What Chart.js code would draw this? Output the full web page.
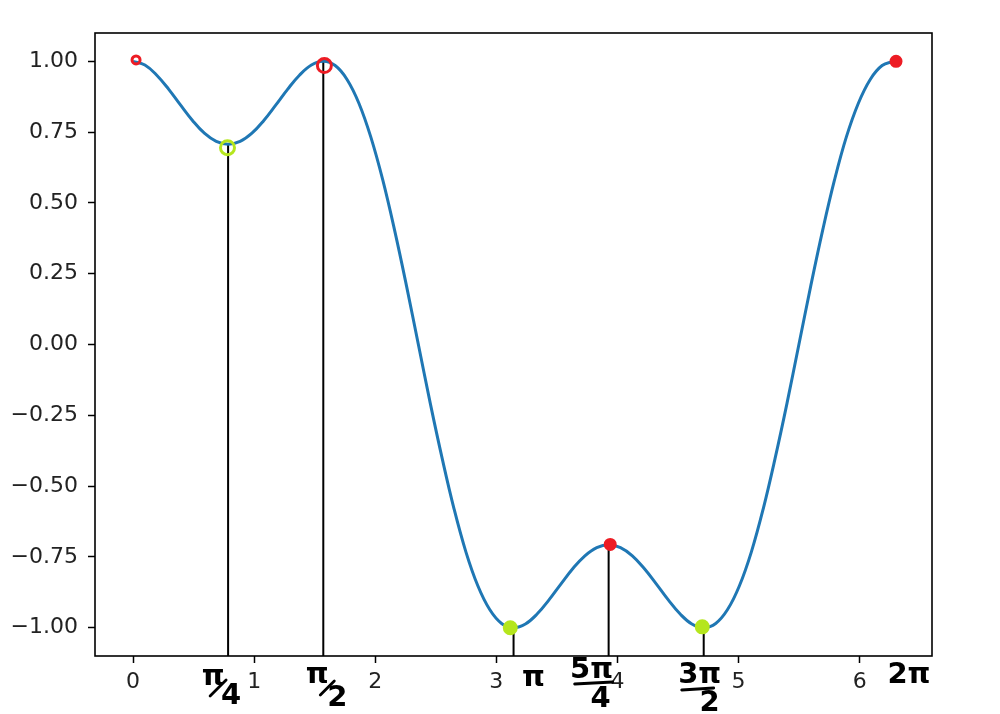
<!DOCTYPE html>
<html>
<head>
<meta charset="utf-8">
<script src="https://cdn.jsdelivr.net/npm/chart.js@4"></script>
<style>
html,body{margin:0;padding:0;background:#fff;}
#c{display:block;}
</style>
</head>
<body>
<canvas id="c" width="1000" height="714"></canvas>
<script>
// Curve samples (x in radians)
const curveX = [0, 0.098, 0.196, 0.295, 0.393, 0.491, 0.589, 0.687, 0.785, 0.884, 0.982, 1.080, 1.178, 1.276, 1.374, 1.473, 1.571, 1.669, 1.767, 1.865, 1.963, 2.062, 2.160, 2.258, 2.356, 2.454, 2.553, 2.651, 2.749, 2.847, 2.945, 3.043, 3.142, 3.240, 3.338, 3.436, 3.534, 3.632, 3.731, 3.829, 3.927, 4.025, 4.123, 4.221, 4.320, 4.418, 4.516, 4.614, 4.712, 4.811, 4.909, 5.007, 5.105, 5.203, 5.301, 5.400, 5.498, 5.596, 5.694, 5.792, 5.890, 5.989, 6.087, 6.185, 6.283];
const curveY = [1.000, 0.987, 0.951, 0.901, 0.845, 0.791, 0.746, 0.717, 0.707, 0.717, 0.746, 0.791, 0.845, 0.901, 0.951, 0.987, 1.000, 0.985, 0.936, 0.852, 0.733, 0.581, 0.403, 0.207, 0.000, -0.207, -0.403, -0.581, -0.733, -0.852, -0.936, -0.985, -1.000, -0.987, -0.951, -0.901, -0.845, -0.791, -0.746, -0.717, -0.707, -0.717, -0.746, -0.791, -0.845, -0.901, -0.951, -0.987, -1.000, -0.985, -0.936, -0.852, -0.733, -0.581, -0.403, -0.207, 0.000, 0.207, 0.403, 0.581, 0.733, 0.852, 0.936, 0.985, 1.000];

// Vertical black lines (stems) from the curve down to the bottom
const stemX = [0.785, 1.571, 3.142, 3.927, 4.712];
const stemTop = [0.707, 1.000, -1.000, -0.707, -1.000];

// Hand-drawn markers
const redX = [0.025, 1.58, 3.94, 6.30];
const redY = [1.005, 0.985, -0.706, 1.000];
const redFilled = [false, false, true, true];
const greenX = [0.78, 3.115, 4.70];
const greenY = [0.695, -1.000, -0.997];
const greenFilled = [false, true, true];

// Hand-written labels under the axis
const handLabels = ['π/4', 'π/2', 'π', '5π/4', '3π/2', '2π'];
const handLabelX = [0.785, 1.571, 3.142, 3.927, 4.712, 6.283];

// Axis ticks
const xTicks = [0, 1, 2, 3, 4, 5, 6];
const xTickLabels = ['0', '1', '2', '3', '4', '5', '6'];
const yTicks = [-1.0, -0.75, -0.5, -0.25, 0, 0.25, 0.5, 0.75, 1.0];
const yTickLabels = ['−1.00', '−0.75', '−0.50', '−0.25', '0.00', '0.25', '0.50', '0.75', '1.00'];

// styles
const RED = '#ed1c24';
const GREEN = '#b5e61d';
const redSize = [4, 7, 5, 5];
const greenSize = [7, 6, 6];
// per-label layout relative to the scale pixel of the value
const handStyle = [
  {num: [-15, 677], den: [3, 696], bar: [-18, 696, -2, 680]},
  {num: [-6, 675], den: [14, 698], bar: [-3, 695, 11, 681]},
  {num: [20, 678]},
  {num: [-17, 670], den: [-8, 699], bar: [-34, 684, 4, 682]},
  {num: [-4, 675], den: [6, 703], bar: [-22, 690, 10, 688]},
  {num: [15, 675]}
];

const stemDatasets = stemX.map((x, i) => ({
  type: 'line',
  data: [{x: x, y: stemTop[i]}, {x: x, y: -1.1}],
  borderColor: '#000',
  borderWidth: 2,
  pointRadius: 0,
  order: 3
}));

const frame = {
  id: 'frame',
  afterDatasetsDraw(chart) {
    const {ctx, chartArea: a} = chart;
    ctx.save();
    ctx.strokeStyle = '#000';
    ctx.lineWidth = 1.6;
    ctx.strokeRect(a.left, a.top, a.right - a.left, a.bottom - a.top);
    ctx.restore();
  },
  afterDraw(chart) {
    const {ctx} = chart;
    const xs = chart.scales.x;
    ctx.save();
    ctx.fillStyle = '#000';
    ctx.strokeStyle = '#000';
    ctx.lineWidth = 2.8;
    ctx.lineCap = 'round';
    ctx.textAlign = 'center';
    ctx.textBaseline = 'middle';
    ctx.font = "bold 29px 'DejaVu Sans'";
    handLabels.forEach((t, i) => {
      const px = xs.getPixelForValue(handLabelX[i]);
      const st = handStyle[i];
      const parts = t.split('/');
      ctx.fillText(parts[0], px + st.num[0], st.num[1]);
      if (parts.length > 1) {
        ctx.fillText(parts[1], px + st.den[0], st.den[1]);
        ctx.beginPath();
        ctx.moveTo(px + st.bar[0], st.bar[1]);
        ctx.lineTo(px + st.bar[2], st.bar[3]);
        ctx.stroke();
      }
    });
    ctx.restore();
  }
};

new Chart(document.getElementById('c'), {
  type: 'line',
  data: {
    datasets: [
      {
        type: 'scatter',
        data: redX.map((x, i) => ({x: x, y: redY[i]})),
        pointRadius: redSize,
        pointBorderWidth: 3,
        pointBorderColor: RED,
        pointBackgroundColor: redFilled.map(f => f ? RED : 'rgba(0,0,0,0)'),
        showLine: false,
        order: 0
      },
      {
        type: 'scatter',
        data: greenX.map((x, i) => ({x: x, y: greenY[i]})),
        pointRadius: greenSize,
        pointBorderWidth: 3,
        pointBorderColor: GREEN,
        pointBackgroundColor: greenFilled.map(f => f ? GREEN : 'rgba(0,0,0,0)'),
        showLine: false,
        order: 0
      },
      {
        type: 'line',
        data: curveX.map((x, i) => ({x: x, y: curveY[i]})),
        borderColor: '#1f77b4',
        borderWidth: 3,
        pointRadius: 0,
        tension: 0.4,
        order: 1
      },
      ...stemDatasets
    ]
  },
  options: {
    responsive: false,
    animation: false,
    layout: {padding: {top: 33, right: 68, left: 0, bottom: 0}},
    plugins: {legend: {display: false}, tooltip: {enabled: false}},
    scales: {
      x: {
        type: 'linear',
        min: -0.314,
        max: 6.597,
        afterBuildTicks: s => { s.ticks = xTicks.map(v => ({value: v})); },
        afterFit: s => { s.height = 58; },
        grid: {drawOnChartArea: false, drawTicks: true, tickLength: 7, tickColor: '#000', tickWidth: 1.5},
        border: {display: false},
        ticks: {
          autoSkip: false, maxRotation: 0, padding: 6, color: '#222',
          font: {family: 'DejaVu Sans', size: 22},
          callback: (v, i) => xTickLabels[i]
        }
      },
      y: {
        type: 'linear',
        min: -1.1,
        max: 1.1,
        afterBuildTicks: s => { s.ticks = yTicks.map(v => ({value: v})); },
        afterFit: s => { s.width = 95; },
        grid: {drawOnChartArea: false, drawTicks: true, tickLength: 7, tickColor: '#000', tickWidth: 1.5},
        border: {display: false},
        ticks: {
          autoSkip: false, padding: 10, color: '#222',
          font: {family: 'DejaVu Sans', size: 22},
          callback: (v, i) => yTickLabels[i]
        }
      }
    }
  },
  plugins: [frame]
});
</script>
</body>
</html>
